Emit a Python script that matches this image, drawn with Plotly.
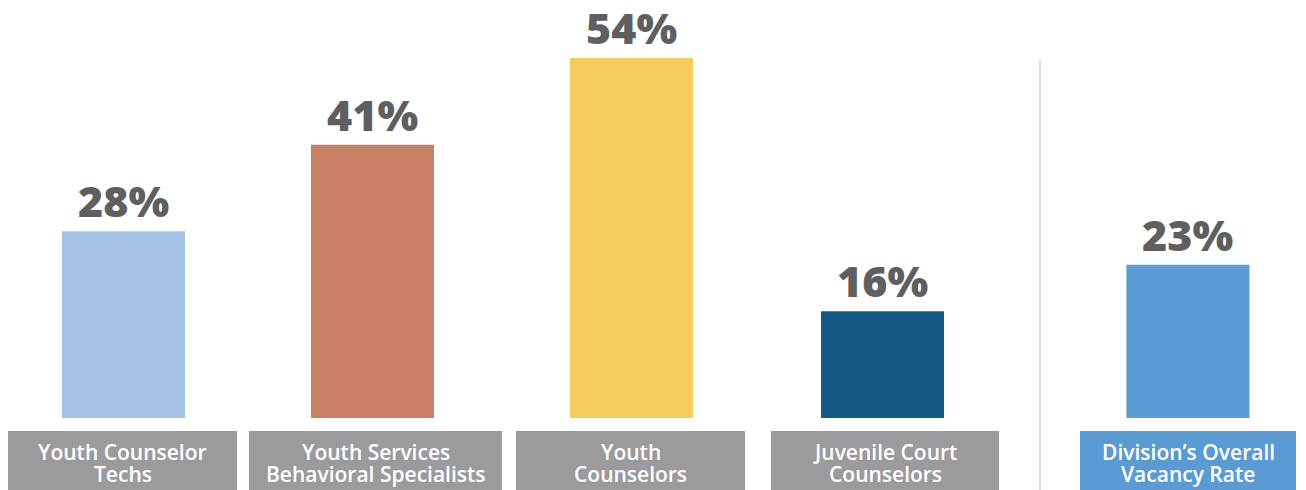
import plotly.graph_objects as go

categories = ["Youth Counselor<br>Techs", "Youth Services<br>Behavioral Specialists",
              "Youth<br>Counselors", "Juvenile Court<br>Counselors",
              "Division’s Overall<br>Vacancy Rate"]
values = [28, 41, 54, 16, 23]
value_labels = ["28%", "41%", "54%", "16%", "23%"]
bar_colors = ["#a4c2e6", "#c88064", "#f4cc5c", "#135a85", "#5b9bd3"]
box_colors = ["#9b9b9e", "#9b9b9e", "#9b9b9e", "#9b9b9e", "#5b9bd3"]

# layout: bar centers (x units), label boxes in px
xpos = [0, 0.988, 2.016, 3.012, 4.224]
box_left_px = [8, 249, 516, 771, 1080]
box_right_px = [237, 502, 745, 999, 1296]
line_centers_px = [452.5, 474]

W, H = 1306, 490
unit = 252.0
origin_px = 123.5
plot_h = 418
ymax = plot_h / 6.667


def px_to_x(p):
    return (p - origin_px) / unit


def px_to_paper(p):
    return (plot_h - p) / plot_h


fig = go.Figure()
fig.add_trace(go.Bar(
    x=xpos, y=values, width=123 / unit,
    marker=dict(color=bar_colors, line=dict(width=0)),
    cliponaxis=False, hoverinfo="skip",
))

for xv, yv, lab in zip(xpos, values, value_labels):
    fig.add_annotation(
        x=xv, y=yv, xref="x", yref="y", yanchor="bottom", xanchor="center",
        text=lab, showarrow=False, yshift=-1,
        font=dict(family="Open Sans", size=43, color="#5f5f61", weight=800),
    )

for lp, rp, txt, bc in zip(box_left_px, box_right_px, categories, box_colors):
    fig.add_shape(type="rect", xref="x", yref="paper",
                  x0=px_to_x(lp), x1=px_to_x(rp),
                  y0=px_to_paper(431), y1=px_to_paper(H + 5),
                  fillcolor=bc, line=dict(width=0), layer="below")
    for line, cy in zip(txt.split("<br>"), line_centers_px):
        fig.add_annotation(
            x=px_to_x((lp + rp) / 2), xref="x", y=px_to_paper(cy), yref="paper",
            yanchor="middle", xanchor="center",
            text=line, showarrow=False,
            font=dict(family="Open Sans", size=21, color="white", weight=600),
            align="center",
        )

fig.add_shape(type="line", xref="x", yref="paper",
              x0=px_to_x(1040), x1=px_to_x(1040),
              y0=px_to_paper(59), y1=px_to_paper(H + 5),
              line=dict(color="#dcdcdc", width=2))

fig.update_layout(
    width=W, height=H,
    margin=dict(l=0, r=0, t=0, b=H - plot_h),
    paper_bgcolor="white", plot_bgcolor="white",
    showlegend=False,
    xaxis=dict(range=[px_to_x(0), px_to_x(W)], visible=False, fixedrange=True),
    yaxis=dict(range=[0, ymax], visible=False, fixedrange=True),
)

fig.write_html("out.html", config={"displayModeBar": False},
               post_script="document.body.style.margin='0';document.body.style.overflow='hidden';")
